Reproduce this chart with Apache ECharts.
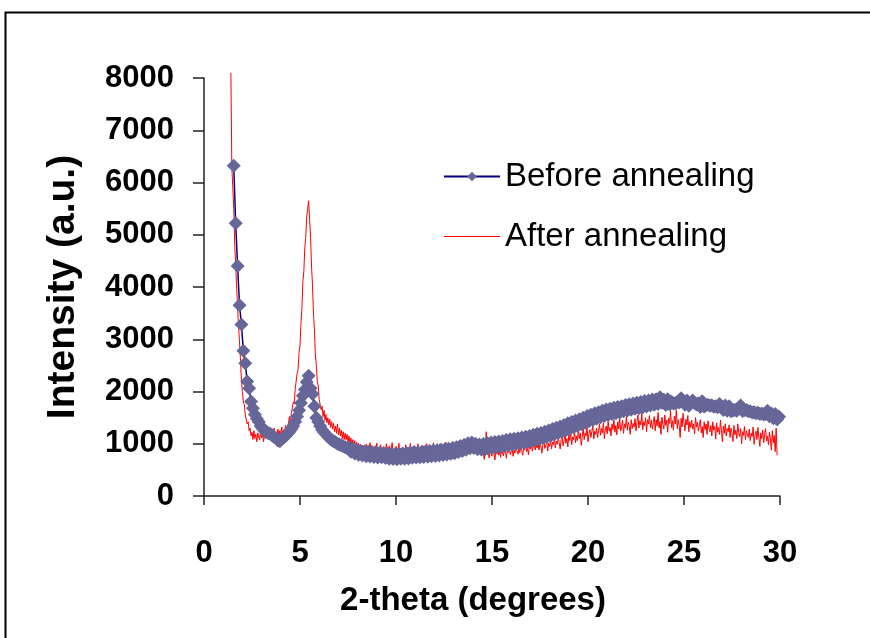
<!DOCTYPE html>
<html>
<head>
<meta charset="utf-8">
<script src="https://cdn.jsdelivr.net/npm/echarts@6/dist/echarts.min.js"></script>
<style>
html,body{margin:0;padding:0;background:#fff;}
#chart{width:870px;height:638px;}
</style>
</head>
<body>
<div id="chart"></div>
<script>
// ---- data ----
const seriesNames = ['Before annealing', 'After annealing'];
const xAxisTitle = '2-theta (degrees)';
const yAxisTitle = 'Intensity (a.u.)';

// "Before annealing": 2-theta starts at 1.55, step 0.1
const beforeStart = 1.55, beforeStep = 0.1;
const beforeValues = [
  6320,5220,4400,3650,3280,2780,2540,2190,2060,1810,
  1680,1560,1480,1420,1340,1290,1250,1230,1200,1190,
  1160,1130,1110,1060,1050,1090,1120,1150,1190,1230,
  1280,1340,1420,1520,1640,1780,1920,2040,2180,2300,
  2060,1950,1720,1500,1420,1340,1270,1220,1180,1140,
  1100,1070,1050,1030,1000,985,970,950,935,920,
  935,845,905,815,880,790,865,775,850,760,
  845,755,840,745,835,735,830,740,825,725,
  815,715,810,710,805,705,810,715,815,715,
  825,720,830,730,840,735,835,740,845,745,
  850,750,860,760,870,765,875,775,885,785,
  895,795,905,810,920,820,935,840,955,860,
  980,885,1010,915,1025,920,1000,895,985,890,
  995,900,1015,915,1025,930,1035,940,1045,945,
  1055,955,1070,970,1085,985,1095,995,1105,1010,
  1120,1020,1135,1035,1150,1055,1170,1070,1190,1090,
  1205,1110,1230,1130,1255,1155,1280,1180,1305,1205,
  1330,1230,1360,1260,1390,1285,1415,1315,1445,1340,
  1470,1375,1500,1400,1530,1430,1555,1455,1585,1480,
  1605,1505,1630,1530,1655,1550,1670,1570,1690,1585,
  1705,1600,1720,1620,1740,1635,1755,1650,1770,1670,
  1785,1680,1800,1700,1820,1715,1830,1730,1845,1745,
  1850,1760,1890,1785,1840,1740,1850,1750,1805,1770,
  1775,1800,1790,1870,1810,1745,1830,1725,1785,1830,
  1780,1750,1775,1705,1815,1715,1735,1745,1725,1735,
  1710,1720,1700,1760,1705,1645,1730,1630,1720,1620,
  1635,1645,1630,1695,1730,1625,1640,1645,1620,1620,
  1600,1605,1585,1595,1570,1580,1560,1570,1630,1525,
  1580,1490,1570,1465,1515,1490
];

// "After annealing": 2-theta starts at 1.40, step 0.05
const afterStart = 1.40, afterStep = 0.05;
const afterValues = [
  8100,6300,5900,5500,4800,4400,4000,3600,3250,2950,2600,2200,2000,1800,1750,1550,1580,1380,1420,1250,
  1300,1150,1220,1080,1250,1100,1180,1040,1210,1130,1070,1250,1110,1180,1040,1220,1100,1170,1260,1130,
  1180,1260,1120,1230,1150,1300,1100,1210,1170,1280,1140,1250,1190,1320,1160,1270,1220,1350,1240,1330,
  1400,1520,1410,1580,1560,1800,1760,2050,2080,2350,2420,2750,2880,3300,3600,4100,4300,4750,4950,5350,
  5500,5650,5300,4950,4400,4050,3500,3200,2700,2500,2200,2100,1850,1850,1650,1720,1520,1640,1450,1560,
  1400,1500,1360,1470,1310,1420,1280,1390,1230,1340,1200,1380,1170,1300,1150,1260,1100,1230,1080,1200,
  1080,1180,1030,1150,1000,1110,970,1080,950,1060,930,1030,910,1010,890,980,870,970,850,950,
  870,990,830,950,900,1020,850,940,880,800,960,870,1010,840,920,790,980,860,900,820,
  940,850,1000,810,880,960,760,900,1020,830,870,700,950,880,820,1010,780,920,640,870,
  900,820,980,850,760,930,870,1010,800,890,950,830,780,920,860,1000,810,880,940,850,
  790,960,880,830,1000,860,920,800,970,890,840,1020,870,930,810,960,900,850,1000,880,
  830,950,910,860,1030,880,940,820,990,920,870,1040,900,960,850,1010,930,880,1060,920,
  970,890,1050,940,1000,870,1080,950,910,1020,880,960,1070,930,850,990,920,1000,870,940,
  860,780,920,820,700,880,1230,790,850,730,900,810,760,950,840,690,870,800,930,780,
  850,740,900,820,770,940,860,720,880,830,960,790,850,910,760,880,820,980,870,800,
  900,830,960,870,780,940,880,1000,850,920,790,960,900,1030,860,940,1010,880,970,920,
  1000,880,1060,940,820,990,1080,910,970,1040,860,1010,950,1100,900,1030,980,1130,920,1050,
  990,1120,1020,900,1080,1160,960,1050,1190,1010,1100,940,1170,1060,1220,980,1130,1080,1250,1020,
  1150,1060,1260,1100,1200,970,1140,1290,1080,1210,1150,1330,1040,1190,1270,1120,1230,1350,1090,1240,
  1180,1300,1120,1250,1380,1160,1290,1210,1400,1100,1260,1340,1190,1430,1240,1310,1150,1380,1270,1460,
  1220,1350,1170,1420,1280,1500,1240,1330,1450,1200,1380,1300,1520,1260,1410,1330,1180,1460,1290,1390,
  1320,1480,1250,1410,1550,1300,1440,1360,1580,1270,1420,1350,1500,1230,1460,1380,1540,1310,1450,1280,
  1400,1520,1250,1460,1340,1600,1300,1430,1180,1510,1370,1280,1550,1350,1450,1220,1490,1390,1620,1310,
  1440,1260,1530,1380,1650,1290,1460,1350,1120,1490,1320,1580,1400,1250,1470,1360,1540,1230,1420,1310,
  1450,1280,1380,1190,1500,1320,1410,1240,1360,1460,1210,1330,1120,1420,1270,1380,1180,1440,1300,1230,
  1350,1150,1420,1260,1330,1090,1400,1220,1310,1180,1450,1250,1040,1340,1200,1380,1150,1290,1230,1360,
  1120,1300,1200,1040,1350,1170,1260,1100,1380,1210,1140,1290,1000,1230,1160,1330,1080,1250,1190,1120,
  1280,1060,1200,1140,1320,990,1170,1240,1080,1310,1130,950,1210,1100,1260,1020,1180,1290,1050,1150,
  980,1220,1100,880,1250,1020,1160,850,1300,780
];

// axis ranges / ticks
const xMin = 0, xMax = 30, xInterval = 5;
const yMin = 0, yMax = 8000, yInterval = 1000;

// ---- build chart ----
function pairs(start, step, values) {
  return values.map((v, i) => [Math.round((start + i * step) * 1000) / 1000, v]);
}
const FONT = '"Liberation Sans", Arial, sans-serif';

const chart = echarts.init(document.getElementById('chart'), null, {renderer: 'canvas'});
chart.setOption({
  animation: false,
  backgroundColor: '#ffffff',
  graphic: [{
    type: 'polyline',
    shape: {points: [[5.5, 700], [5.5, 12.5], [2000, 12.5]]},
    style: {fill: 'none', stroke: '#000', lineWidth: 2},
    silent: true, z: -1
  }],
  grid: {left: 204, right: 90, top: 78, bottom: 142, containLabel: false},
  legend: {
    data: [
      {name: seriesNames[0]},
      {name: seriesNames[1], icon: 'path://M0,0L56,0L56,1L0,1Z', itemStyle: {color: '#ff0000'}}
    ],
    orient: 'vertical',
    left: 438, top: 155,
    itemWidth: 56, itemHeight: 12, itemGap: 27,
    textStyle: {fontFamily: FONT, fontSize: 33, color: '#000', lineHeight: 33},
    selectedMode: false
  },
  xAxis: {
    type: 'value', min: xMin, max: xMax, interval: xInterval,
    name: xAxisTitle, nameLocation: 'middle', nameGap: 88,
    nameTextStyle: {fontFamily: FONT, fontSize: 33, fontWeight: 'bold', color: '#000', padding: [0, 38, 0, 0]},
    axisLine: {lineStyle: {color: '#222', width: 1.5}},
    axisTick: {inside: false, length: 9, lineStyle: {color: '#222', width: 1.5}},
    axisLabel: {fontFamily: FONT, fontSize: 31, fontWeight: 'bold', color: '#000', margin: 42},
    splitLine: {show: false}
  },
  yAxis: {
    type: 'value', min: yMin, max: yMax, interval: yInterval,
    name: yAxisTitle, nameLocation: 'middle', nameGap: 121, nameRotate: 90,
    nameTextStyle: {fontFamily: FONT, fontSize: 39, fontWeight: 'bold', color: '#000'},
    axisLine: {show: true, lineStyle: {color: '#222', width: 1.5}},
    axisTick: {show: true, inside: false, length: 11, lineStyle: {color: '#222', width: 1.5}},
    axisLabel: {fontFamily: FONT, fontSize: 31, fontWeight: 'bold', color: '#000', margin: 30,
      formatter: v => String(v)},
    splitLine: {show: false}
  },
  series: [
    {
      name: seriesNames[1], type: 'line',
      data: pairs(afterStart, afterStep, afterValues),
      showSymbol: false, symbol: 'none',
      lineStyle: {color: '#ff0000', width: 1},
      itemStyle: {color: '#ff0000'},
      clip: false, z: 2
    },
    {
      name: seriesNames[0], type: 'line',
      data: pairs(beforeStart, beforeStep, beforeValues),
      symbol: 'diamond', symbolSize: 14, showSymbol: true,
      lineStyle: {color: '#000080', width: 1.5},
      itemStyle: {color: '#666699'},
      clip: true, z: 3
    }
  ]
});
</script>
</body>
</html>
